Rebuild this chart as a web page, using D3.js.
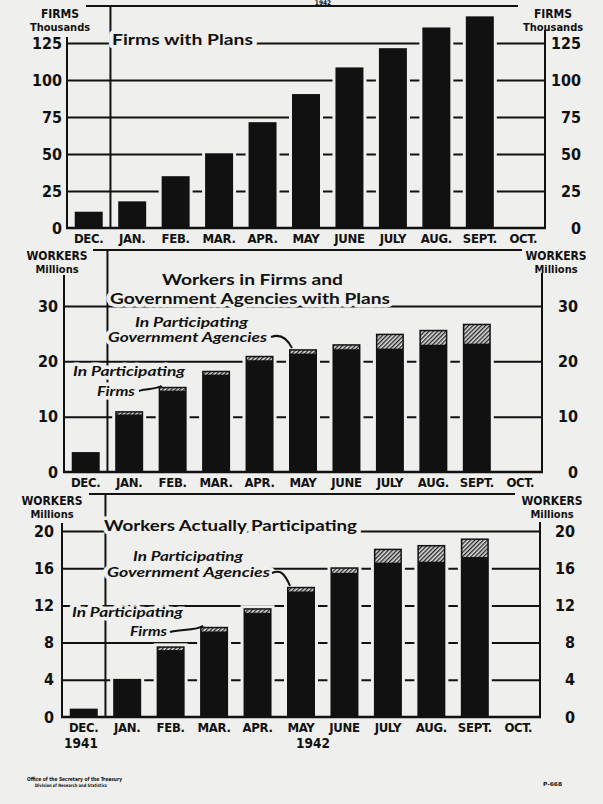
<!DOCTYPE html>
<html>
<head>
<meta charset="utf-8">
<script src="https://cdn.jsdelivr.net/npm/d3@7"></script>
<style>
  body { margin: 0; background: #efefed; }
  svg { display: block; }
</style>
</head>
<body>
<svg id="chart" width="603" height="804"></svg>
<script>
// month categories (Dec 1941 .. Oct 1942)
var months = ["DEC.", "JAN.", "FEB.", "MAR.", "APR.", "MAY", "JUNE", "JULY", "AUG.", "SEPT.", "OCT."];

// firms with plans, thousands (Dec..Sept)
var firmsWithPlans = [11, 18, 35, 50.5, 71.5, 90.5, 108.5, 121.5, 135.5, 143];

// workers in firms / gov agencies with plans, millions
var planFirmWorkers = [3.6, 10.4, 14.7, 17.6, 20.2, 21.4, 22.2, 22.3, 23.0, 23.2];
var planGovWorkers  = [0,   0.6,  0.7,  0.7,  0.8,  0.8,  0.9,  2.7,  2.7,  3.6];

// workers actually participating, millions
var actualFirmWorkers = [0.9, 4.1, 7.2, 9.2, 11.2, 13.5, 15.5, 16.6, 16.7, 17.2];
var actualGovWorkers  = [0,   0,   0.4, 0.5, 0.5,  0.5,  0.6,  1.5,  1.8,  2.0];

var firmTicks = [0, 25, 50, 75, 100, 125];
var planTicks = [0, 10, 20, 30];
var actualTicks = [0, 4, 8, 12, 16, 20];

var bg = "#efefed", ink = "#111";
var plotWidth = 478;
var tickFont = "'DejaVu Sans Condensed', 'DejaVu Sans', sans-serif";
var titleFont = "Lato, 'Open Sans', sans-serif";

var svg = d3.select("#chart");
svg.append("rect").attr("width", 603).attr("height", 804).attr("fill", bg);

var defs = svg.append("defs");
var pat = defs.append("pattern")
  .attr("id", "hatch")
  .attr("patternUnits", "userSpaceOnUse")
  .attr("width", 3).attr("height", 3)
  .attr("patternTransform", "rotate(45)");
pat.append("rect").attr("width", 3).attr("height", 3).attr("fill", "#dcdcdc");
pat.append("line").attr("x1", 0.7).attr("y1", 0).attr("x2", 0.7).attr("y2", 3)
  .attr("stroke", ink).attr("stroke-width", 1.2);

// text with a background-coloured halo, so it cuts the lines behind it
function haloText(g, t, x, y, len, size, italic) {
  return g.append("text")
    .attr("x", x).attr("y", y)
    .attr("textLength", len).attr("lengthAdjust", "spacingAndGlyphs")
    .attr("font-family", titleFont)
    .attr("font-weight", 700)
    .attr("font-style", italic ? "italic" : "normal")
    .attr("font-size", size)
    .attr("fill", ink)
    .attr("stroke", bg).attr("stroke-width", 7)
    .attr("stroke-linejoin", "round")
    .attr("paint-order", "stroke")
    .text(t);
}

function drawPanel(p) {
  var g = svg.append("g");
  var xL = p.left, xR = p.left + plotWidth;
  var x = d3.scaleBand().domain(months).range([xL, xR])
    .paddingInner(0.356).paddingOuter(0.178);
  var y = d3.scaleLinear().domain([0, p.max]).range([p.base, p.top]);

  // gridlines
  g.append("g")
    .attr("transform", "translate(" + xL + ",0)")
    .call(d3.axisLeft(y).tickValues(p.ticks.filter(function(t) { return t > 0; }))
      .tickSize(-plotWidth).tickFormat(""))
    .call(function(s) { s.select(".domain").remove(); })
    .selectAll("line").attr("stroke", ink).attr("stroke-width", 2);

  // top rule and the 1941/1942 divider
  g.append("line").attr("x1", p.lineX1).attr("x2", p.lineX2)
    .attr("y1", p.topY).attr("y2", p.topY)
    .attr("stroke", ink).attr("stroke-width", 2);
  var sepX = x("JAN.") - x.step() * x.paddingInner() / 2;
  g.append("line").attr("x1", sepX).attr("x2", sepX)
    .attr("y1", p.topY).attr("y2", p.base)
    .attr("stroke", ink).attr("stroke-width", 2);

  // titles and notes
  p.titles.forEach(function(t) { haloText(g, t.text, t.x, t.y, t.len, 15, false); });
  p.notes.forEach(function(n) {
    n.lines.forEach(function(t) { haloText(g, t.text, t.x, t.y, t.len, 13.5, true); });
  });

  // bars
  var rows = p.firms.map(function(v, i) {
    return { m: months[i], firms: v, gov: p.gov ? p.gov[i] : 0 };
  });
  var bars = g.append("g").selectAll("g").data(rows).join("g");
  bars.append("rect")
    .attr("x", function(d) { return x(d.m) - 3; })
    .attr("y", function(d) { return y(d.firms + d.gov) - 3; })
    .attr("width", x.bandwidth() + 6)
    .attr("height", function(d) { return p.base - y(d.firms + d.gov) + 3; })
    .attr("fill", bg);
  bars.append("rect")
    .attr("x", function(d) { return x(d.m); })
    .attr("y", function(d) { return y(d.firms + d.gov); })
    .attr("width", x.bandwidth())
    .attr("height", function(d) { return p.base - y(d.firms + d.gov); })
    .attr("fill", ink);
  bars.filter(function(d) { return d.gov > 0; }).append("rect")
    .attr("x", function(d) { return x(d.m) + 1.5; })
    .attr("y", function(d) { return y(d.firms + d.gov) + 1.5; })
    .attr("width", x.bandwidth() - 3)
    .attr("height", function(d) { return Math.max(1.2, y(d.firms) - y(d.firms + d.gov) - 1.5); })
    .attr("fill", "url(#hatch)");

  // leader lines from the notes to the bars
  p.notes.forEach(function(n) {
    var i = months.indexOf(n.to);
    var tx = x(n.to) + 3, ty = y(p.firms[i] + (p.gov ? p.gov[i] : 0)) - 1;
    var sx = n.from[0], sy = n.from[1];
    g.append("path")
      .attr("d", "M" + sx + "," + sy + " C" + (sx + 8) + "," + (sy - 3) + " " + (tx - 6) + "," + (sy - 1) + " " + tx + "," + ty)
      .attr("fill", "none").attr("stroke", ink).attr("stroke-width", 2);
  });

  // axes lines
  g.append("line").attr("x1", xL).attr("x2", xL).attr("y1", p.axisTopL).attr("y2", p.base + 1)
    .attr("stroke", ink).attr("stroke-width", 2);
  g.append("line").attr("x1", xR).attr("x2", xR).attr("y1", p.axisTopR).attr("y2", p.base + 1)
    .attr("stroke", ink).attr("stroke-width", 2);
  g.append("line").attr("x1", xL - 1).attr("x2", xR + 1).attr("y1", p.base).attr("y2", p.base)
    .attr("stroke", ink).attr("stroke-width", 2.5);

  // tick labels, both sides
  var left = g.append("g").attr("transform", "translate(" + xL + ",0)")
    .call(d3.axisLeft(y).tickValues(p.ticks).tickSize(0).tickPadding(p.padL));
  var right = g.append("g").attr("transform", "translate(" + xR + ",0)")
    .call(d3.axisRight(y).tickValues(p.ticks).tickSize(0));
  [left, right].forEach(function(a) {
    a.select(".domain").remove();
    a.attr("font-family", tickFont).attr("font-size", 16).attr("font-weight", "bold");
    a.selectAll("text").attr("fill", ink);
  });
  right.selectAll("text").attr("text-anchor", "end").attr("x", p.padR);

  // month labels
  g.append("g").selectAll("text").data(months).join("text")
    .attr("x", function(d) { return x(d) + x.bandwidth() / 2; })
    .attr("y", p.base + 15)
    .attr("text-anchor", "middle")
    .attr("font-family", tickFont).attr("font-weight", "bold").attr("font-size", 13)
    .attr("letter-spacing", -0.3)
    .attr("fill", ink)
    .text(function(d) { return d; });

  // unit labels
  [p.unitXL, p.unitXR].forEach(function(ux) {
    g.append("text").attr("x", ux).attr("y", p.unitY1).attr("text-anchor", "middle")
      .attr("font-family", tickFont).attr("font-weight", "bold").attr("font-size", 12)
      .attr("fill", ink).text(p.unit1);
    g.append("text").attr("x", ux).attr("y", p.unitY2).attr("text-anchor", "middle")
      .attr("font-family", tickFont).attr("font-weight", "bold").attr("font-size", 11)
      .attr("fill", ink).text(p.unit2);
  });

  return { x: x, y: y };
}

// top year, kept small so it stays inside the page
svg.append("text").attr("x", 323).attr("y", 5).attr("text-anchor", "middle")
  .attr("font-family", tickFont).attr("font-weight", "bold").attr("font-size", 6.5)
  .attr("fill", ink).text("1942");

drawPanel({
  left: 67, base: 228, max: 125, top: 43, ticks: firmTicks,
  firms: firmsWithPlans, gov: null,
  topY: 6, lineX1: 86, lineX2: 518, axisTopL: 37, axisTopR: 30,
  padL: 5, padR: 36,
  unitXL: 60, unitXR: 553, unit1: "FIRMS", unit2: "Thousands", unitY1: 18, unitY2: 31,
  titles: [{ text: "Firms with Plans", x: 112, y: 45, len: 141 }],
  notes: []
});

drawPanel({
  left: 64, base: 472, max: 30, top: 306, ticks: planTicks,
  firms: planFirmWorkers, gov: planGovWorkers,
  topY: 250, lineX1: 93, lineX2: 522, axisTopL: 275, axisTopR: 273,
  padL: 6, padR: 36,
  unitXL: 57, unitXR: 556, unit1: "WORKERS", unit2: "Millions", unitY1: 260, unitY2: 273,
  titles: [
    { text: "Workers in Firms and", x: 162, y: 285, len: 181 },
    { text: "Government Agencies with Plans", x: 110, y: 304, len: 280 }
  ],
  notes: [
    { lines: [{ text: "In Participating", x: 135, y: 327, len: 113 },
              { text: "Government Agencies", x: 108, y: 342, len: 159 }],
      from: [271, 337], to: "MAY" },
    { lines: [{ text: "In Participating", x: 73, y: 376, len: 112 },
              { text: "Firms", x: 97, y: 396, len: 38 }],
      from: [139, 391], to: "FEB." }
  ]
});

drawPanel({
  left: 62, base: 717, max: 20, top: 531, ticks: actualTicks,
  firms: actualFirmWorkers, gov: actualGovWorkers,
  topY: 494, lineX1: 89, lineX2: 515, axisTopL: 523, axisTopR: 522,
  padL: 8, padR: 35,
  unitXL: 52, unitXR: 552, unit1: "WORKERS", unit2: "Millions", unitY1: 505, unitY2: 518,
  titles: [{ text: "Workers Actually Participating", x: 104, y: 531, len: 253 }],
  notes: [
    { lines: [{ text: "In Participating", x: 133, y: 561, len: 110 },
              { text: "Government Agencies", x: 107, y: 577, len: 163 }],
      from: [272, 573], to: "MAY" },
    { lines: [{ text: "In Participating", x: 72, y: 617, len: 111 },
              { text: "Firms", x: 130, y: 636, len: 37 }],
      from: [170, 632], to: "MAR." }
  ]
});

// years under the bottom panel
svg.append("text").attr("x", 81).attr("y", 748).attr("text-anchor", "middle")
  .attr("font-family", tickFont).attr("font-weight", "bold").attr("font-size", 13.5)
  .attr("fill", ink).text("1941");
svg.append("text").attr("x", 313).attr("y", 748).attr("text-anchor", "middle")
  .attr("font-family", tickFont).attr("font-weight", "bold").attr("font-size", 13.5)
  .attr("fill", ink).text("1942");

// footer
svg.append("text").attr("x", 27).attr("y", 781).attr("textLength", 95)
  .attr("lengthAdjust", "spacingAndGlyphs")
  .attr("font-family", tickFont).attr("font-weight", "bold").attr("font-size", 5.5)
  .attr("fill", ink).text("Office of the Secretary of the Treasury");
svg.append("text").attr("x", 35).attr("y", 787).attr("textLength", 72)
  .attr("lengthAdjust", "spacingAndGlyphs")
  .attr("font-family", tickFont).attr("font-weight", "bold").attr("font-size", 4.5)
  .attr("fill", ink).text("Division of Research and Statistics");
svg.append("text").attr("x", 543).attr("y", 786).attr("textLength", 19)
  .attr("lengthAdjust", "spacingAndGlyphs")
  .attr("font-family", tickFont).attr("font-weight", "bold").attr("font-size", 5.5)
  .attr("fill", ink).text("P-668");
</script>
</body>
</html>
